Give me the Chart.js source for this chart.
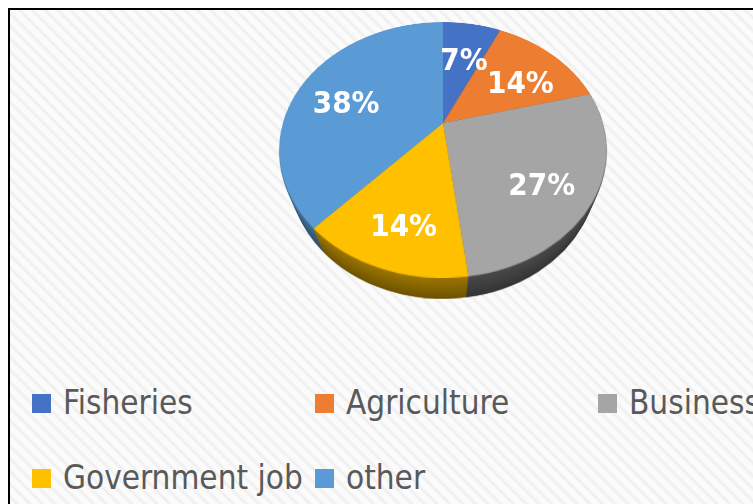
<!DOCTYPE html>
<html>
<head>
<meta charset="utf-8">
<script src="https://cdn.jsdelivr.net/npm/chart.js@4/dist/chart.umd.min.js"></script>
<style>
  html, body { margin: 0; padding: 0; width: 753px; height: 504px; overflow: hidden; background: #fff; }
  #frame {
    position: absolute; left: 8px; top: 8px; width: 745px; height: 496px;
    border-left: 2px solid #000; border-top: 2px solid #000;
    background: repeating-linear-gradient(45deg, #fbfbfb 0px, #fbfbfb 4px, #eeeeee 6.5px, #fbfbfb 9px);
  }
  .layer { position: absolute; }
  .dlabel {
    position: absolute; transform: translate(-50%, -50%); white-space: nowrap;
    font-family: "Liberation Sans Narrow", "DejaVu Sans Condensed", "Liberation Sans", sans-serif;
    font-weight: bold; font-size: 31px; color: #fff; line-height: 1;
  }
  .litem {
    position: absolute; height: 40px; white-space: nowrap;
    font-family: "Liberation Sans Narrow", "DejaVu Sans Condensed", "Liberation Sans", sans-serif;
    font-size: 33px; line-height: 40px; color: #595959;
  }
  .litem i { position: absolute; left: 0; top: 12px; width: 19px; height: 19px; }
  .litem span { position: absolute; left: 31px; top: 1px; }
</style>
</head>
<body>
<div id="frame"></div>
<div id="scene"></div>
<div id="legend"></div>
<script>
// Occupation shares (percent)
const categories = ['Fisheries', 'Agriculture', 'Business', 'Government job', 'other'];
const shares = [7, 14, 27, 14, 38];
const sliceColors = ['#4472C4', '#ED7D31', '#A5A5A5', '#FFC000', '#5B9BD5'];

// 3-D view of the pie: centre on screen, disc size, tilt, camera distance, thickness
const VIEW = { cx: 443, cy: 123, size: 320, tilt: 40.2, persp: 489, depth: 44, labelDepth: 13.5 };

const rad = VIEW.tilt * Math.PI / 180;
const scene = document.getElementById('scene');

function hexToRgb(h) {
  const n = parseInt(h.slice(1), 16);
  return [(n >> 16) & 255, (n >> 8) & 255, n & 255];
}
function shade(hex, f) {
  const [r, g, b] = hexToRgb(hex);
  return `rgb(${Math.round(r * f)},${Math.round(g * f)},${Math.round(b * f)})`;
}

// lighting of the side wall: lit from the left, darker towards the right
const total = shares.reduce((a, b) => a + b, 0);
const midAngles = [];
{
  let acc = 0;
  shares.forEach(v => { midAngles.push(-Math.PI / 2 + 2 * Math.PI * (acc + v / 2) / total); acc += v; });
}
const wallLight = midAngles.map(a => 0.56 - 0.15 * Math.cos(a));

function makeLayer(h, colors) {
  const cv = document.createElement('canvas');
  cv.width = VIEW.size; cv.height = VIEW.size;
  cv.className = 'layer';
  cv.style.width = VIEW.size + 'px';
  cv.style.height = VIEW.size + 'px';
  cv.style.left = (VIEW.cx - VIEW.size / 2) + 'px';
  cv.style.top = (VIEW.cy - VIEW.size / 2) + 'px';
  cv.style.transformOrigin = '50% 50%';
  cv.style.transform = `perspective(${VIEW.persp}px) rotateX(${VIEW.tilt}deg) translateZ(${-h}px)`;
  scene.appendChild(cv);
  return new Chart(cv, {
    type: 'pie',
    data: {
      labels: categories,
      datasets: [{ data: shares, backgroundColor: colors, borderWidth: 0, hoverOffset: 0 }]
    },
    options: {
      responsive: false,
      animation: false,
      devicePixelRatio: 1,
      events: [],
      layout: { padding: 0 },
      plugins: { legend: { display: false }, tooltip: { enabled: false } }
    }
  });
}

// side wall, deepest slice first
for (let h = VIEW.depth; h >= 1; h--) {
  const k = 1 - 0.3 * (h / VIEW.depth);
  makeLayer(h, sliceColors.map((c, i) => shade(c, wallLight[i] * k)));
}
// top face
const faceChart = makeLayer(0, sliceColors);

// percentage labels, placed inside each slice and projected to the screen
function project(lx, ly, h) {
  const Y = ly * Math.cos(rad) + h * Math.sin(rad);
  const Z = ly * Math.sin(rad) - h * Math.cos(rad);
  const s = VIEW.persp / (VIEW.persp - Z);
  return [VIEW.cx + lx * s, VIEW.cy + Y * s];
}
faceChart.getDatasetMeta(0).data.forEach((arc, i) => {
  const p = arc.getProps(['x', 'y', 'startAngle', 'endAngle', 'outerRadius'], true);
  const mid = (p.startAngle + p.endAngle) / 2;
  const r = 0.7 * p.outerRadius;
  const lx = p.x + r * Math.cos(mid) - VIEW.size / 2;
  const ly = p.y + r * Math.sin(mid) - VIEW.size / 2;
  const [sx, sy] = project(lx, ly, VIEW.labelDepth);
  const el = document.createElement('div');
  el.className = 'dlabel';
  el.textContent = shares[i] + '%';
  el.style.left = sx + 'px';
  el.style.top = sy + 'px';
  document.body.appendChild(el);
});

// legend: three columns, two rows
const legend = document.getElementById('legend');
categories.forEach((name, i) => {
  const item = document.createElement('div');
  item.className = 'litem';
  item.style.left = (32 + 283 * (i % 3)) + 'px';
  item.style.top = (i < 3 ? 382 : 457) + 'px';
  const sw = document.createElement('i');
  sw.style.background = sliceColors[i];
  const tx = document.createElement('span');
  tx.textContent = name;
  item.appendChild(sw);
  item.appendChild(tx);
  legend.appendChild(item);
});
</script>
</body>
</html>
